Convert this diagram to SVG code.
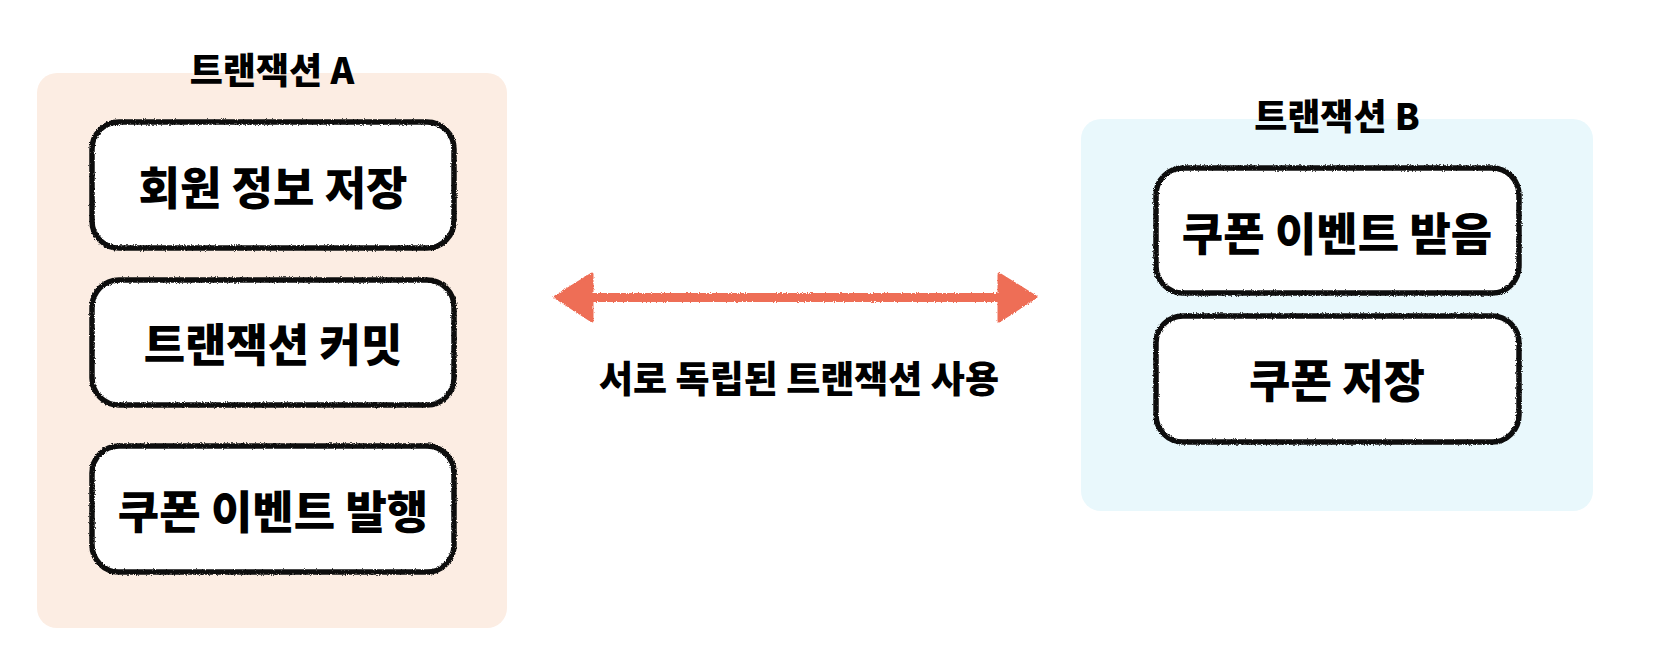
<svg xmlns="http://www.w3.org/2000/svg" width="1660" height="660" viewBox="0 0 1660 660">
<style>
.title{font-family:"Noto Sans CJK KR","Noto Sans",sans-serif;font-weight:900;font-size:36px;fill:#000;text-anchor:middle}
.lbl{font-family:"Noto Sans CJK KR","Noto Sans",sans-serif;font-weight:900;font-size:45px;fill:#000;text-anchor:middle;dominant-baseline:central}
.edge{font-family:"Noto Sans CJK KR","Noto Sans",sans-serif;font-weight:900;font-size:37px;fill:#000;text-anchor:middle}
.box{fill:#fff;stroke:#111;stroke-width:5.5;filter:url(#rough)}
.arrow{fill:#ee6e57;stroke:#ee6e57;stroke-linejoin:round}
</style>
<defs>
<filter id="rough" filterUnits="userSpaceOnUse" x="0" y="0" width="1660" height="660">
<feTurbulence type="fractalNoise" baseFrequency="0.9" numOctaves="2" seed="3" result="n"/>
<feDisplacementMap in="SourceGraphic" in2="n" scale="3" xChannelSelector="R" yChannelSelector="G"/>
</filter>
</defs>
<g id="groupA">
<rect x="37" y="73" width="470" height="555" rx="20" fill="#fcede3"/>
<text class="title" x="272" y="84">트랜잭션 A</text>
</g>
<g id="groupB">
<rect x="1081" y="119" width="512" height="392" rx="20" fill="#e9f8fc"/>
<text class="title" x="1337" y="130">트랜잭션 B</text>
</g>
<g id="nodeA1">
<rect class="box" x="92" y="122" width="362" height="126" rx="27"/>
<text class="lbl" x="273" y="185">회원 정보 저장</text>
</g>
<g id="nodeA2">
<rect class="box" x="92" y="280" width="362" height="125" rx="27"/>
<text class="lbl" x="273" y="342">트랜잭션 커밋</text>
</g>
<g id="nodeA3">
<rect class="box" x="92" y="446" width="362" height="126" rx="27"/>
<text class="lbl" x="273" y="509">쿠폰 이벤트 발행</text>
</g>
<g id="nodeB1">
<rect class="box" x="1156" y="168" width="363" height="125" rx="27"/>
<text class="lbl" x="1337" y="231">쿠폰 이벤트 받음</text>
</g>
<g id="nodeB2">
<rect class="box" x="1156" y="316" width="363" height="126" rx="27"/>
<text class="lbl" x="1337" y="378">쿠폰 저장</text>
</g>
<g id="connectors">
<g filter="url(#rough)">
<rect class="arrow" x="585" y="293" width="420" height="9" stroke-width="0"/>
<path class="arrow" stroke-width="3" d="M555,297 L592,274 L592,321 Z"/>
<path class="arrow" stroke-width="3" d="M1036,297 L999,274 L999,321 Z"/>
</g>
<text class="edge" x="799" y="393">서로 독립된 트랜잭션 사용</text>
</g>
</svg>
